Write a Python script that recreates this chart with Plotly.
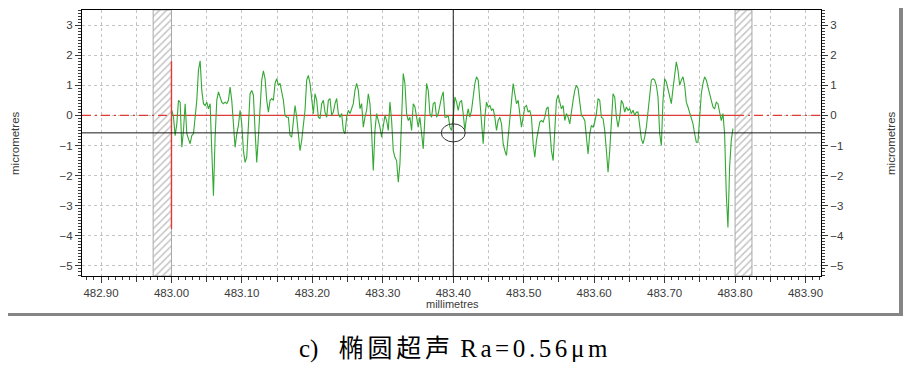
import numpy as np
import plotly.graph_objects as go

# ---------------- data ----------------
# roughness profile, micrometres, evenly sampled between X_START and X_END (mm)
X_START, X_END = 483.0005, 483.797
profile_um = [
    0.17, -0.06, -0.67, -0.28, 0.50, 0.44, -1.06, -0.50, 0.39, -0.61,
    -0.78, -0.94, -0.67, -0.61, -0.06, 0.50, 1.50, 1.81, 0.83, 0.39,
    0.33, 0.44, 0.22, 0.39, -1.17, -2.67, -0.72, 0.50, 0.78, 0.61,
    0.44, 0.39, 0.44, 0.39, 0.50, 0.94, 0.50, -0.28, -1.06, -0.61,
    -0.33, 0.17, -0.28, -1.17, -1.56, -1.39, -0.06, 0.72, 0.83, 0.67,
    -0.50, -1.56, -0.72, 0.50, 1.17, 1.48, 1.22, 0.50, 0.11, 0.50,
    0.56, 0.50, 1.06, 1.22, 1.00, 1.06, 0.78, 0.50, 0.00, -0.06,
    -0.06, -0.67, -0.72, -0.06, 0.33, -0.06, -0.61, -1.17, -0.83, -0.39,
    0.17, 1.17, 1.33,
    1.06, 0.50, 0.06, 0.72, 0.50, -0.06, -0.11, 0.39, 0.50, 0.11,
    -0.06, 0.50, 0.56, 0.00, 0.11, 0.39, 0.56, 0.06, -0.06, 0.06,
    -0.50, -0.61, -0.06, 0.17, 0.06, 0.22, 0.39, 0.83, 1.06, 0.83,
    0.22, 0.39, -0.39, -0.06, 0.17, 0.72, 0.39, -0.56, -1.83, -0.50,
    0.06, -0.17, -0.39, -0.72, -0.28, 0.00, -0.17, -0.50, 0.44, -0.17,
    -1.17, -1.39, -1.50, -2.22, -1.61, 0.17, 1.39, 1.06, 0.06, -0.17,
    -0.06, -0.50, 0.39, 0.28, -0.06, -0.39, -0.06, -0.50, -1.11, -0.06,
    1.06, 0.83, 0.06, -0.06, 0.39, 0.44, -0.06, 0.06, 0.39, 0.61,
    0.78, -0.06, -0.06, 0.00,
    -0.39, -0.50, -0.06, 0.61, 0.44, 0.17, 0.44, 0.50, 0.06, -0.50,
    -0.06, 0.22, -0.06, 0.17, 0.61, 1.06, 1.28, 1.17, 0.50, -0.39,
    -0.94, -0.06, 0.44, 0.28, 0.33, 0.17, 0.22, -0.06, -0.50, -0.17,
    -0.06, -0.28, -0.94, -1.17, -1.33, -0.72, -0.06, 0.50, 1.06, 0.72,
    0.39, 0.50, -0.06, -0.39, -0.06, 0.28, 0.33, 0.11, 0.17, -0.06,
    -0.94, -1.39, -0.83, -0.50, -0.22, -0.17, -0.22, -0.06, 0.22, 0.28,
    -0.61, -1.17, -1.50, -0.61, 0.50, 0.67, 0.39, 0.22, 0.33, -0.17,
    0.06, -0.06, -0.28, 0.22, 0.50, 0.83, 1.00, 0.89, 0.50, 0.00,
    -0.06, -0.17, -0.72, -1.28,
    -0.61, -0.33, -0.39, -0.22, 0.06, 0.56, 0.50, -0.06, -0.11, -0.50,
    -1.17, -1.89, -1.17, -0.06, 0.72, 0.61, -0.06, -0.39, -0.06, 0.50,
    0.39, 0.11, 0.28, 0.17, 0.22, 0.06, 0.17, 0.00, 0.11, 0.11,
    -0.28, -0.78, -0.94, -0.72, -0.39, 0.17, 0.72, 1.17, 1.22, 1.17,
    1.00, 0.61, -0.61, -1.00, 0.50, 1.22, 1.11, 0.83, 0.67, 0.39,
    0.89, 1.39, 1.78, 1.50, 1.00, 1.17, 1.28, 1.00, 0.44, 0.28,
    0.11, -0.06, -0.28, -0.61, -0.89, -0.89, -0.06, 0.72, 1.06, 1.28,
    1.17, 0.89, 0.72, 0.50, 0.28, 0.22, 0.44, 0.39, 0.06, -0.17,
    0.06, -0.61, -2.61, -3.72, -1.72, -0.83, -0.44,
]
x_mm = np.linspace(X_START, X_END, len(profile_um))

X_RANGE = [482.873, 483.922]
Y_RANGE = [-5.333, 3.5]
X_TICK0, X_DTICK = 482.90, 0.10
Y_TICKS = [-5, -4, -3, -2, -1, 0, 1, 2, 3]

EVAL_START, EVAL_END = 483.00, 483.80      # evaluation length
HATCH_LEFT = [482.974, 483.000]
HATCH_RIGHT = [483.800, 483.824]
MEAN_LINE = 0.0
CURSOR_X = 483.40
CURSOR_Y = -0.58
MARKER_Y = [1.80, -3.77]                   # red vertical marker at start
ELLIPSE_HALF = [0.017, 0.30]               # cursor ring half-size (mm, um)

CAPTION = ('<span style="font-size:25px">c)</span><span style="letter-spacing:14px"> </span>'
           '<span style="letter-spacing:3.8px;font-size:25px">椭圆超声</span> '
           '<span style="letter-spacing:3.6px;font-size:25px">Ra=0.56μm</span>')

# ---------------- styling ----------------
GREEN = '#33a833'
RED = '#df3b36'
BLACK = '#1a1a1a'
GRID = '#c4c4c4'
HATCH = '#8a8a8a'
TXT = '#3a3a3a'
FONT = 'Liberation Sans, Arial, sans-serif'
FRAME = '#858585'

fig = go.Figure()

# hatched exclusion zones
for a, b in (HATCH_LEFT, HATCH_RIGHT):
    fig.add_trace(go.Scatter(
        x=[a, b, b, a, a], y=[Y_RANGE[0], Y_RANGE[0], Y_RANGE[1], Y_RANGE[1], Y_RANGE[0]],
        mode='lines', fill='toself', line=dict(color='#a8a8a8', width=1),
        fillcolor='rgba(255,255,255,0)',
        fillpattern=dict(shape='/', fgcolor=HATCH, bgcolor='white', size=5, solidity=0.3),
        hoverinfo='skip'))

# mean line: dash-dot outside, solid inside evaluation length
fig.add_trace(go.Scatter(x=[X_RANGE[0], EVAL_START], y=[MEAN_LINE, MEAN_LINE], mode='lines',
                         line=dict(color=RED, width=1.2, dash='9px,4px,2px,4px')))
fig.add_trace(go.Scatter(x=[EVAL_END, X_RANGE[1]], y=[MEAN_LINE, MEAN_LINE], mode='lines',
                         line=dict(color=RED, width=1.2, dash='9px,4px,2px,4px')))
fig.add_trace(go.Scatter(x=[EVAL_START, EVAL_END], y=[MEAN_LINE, MEAN_LINE], mode='lines',
                         line=dict(color=RED, width=1.2)))

# cursor cross-hair
fig.add_trace(go.Scatter(x=X_RANGE, y=[CURSOR_Y, CURSOR_Y], mode='lines', xaxis='x3',
                         line=dict(color=BLACK, width=1)))
fig.add_trace(go.Scatter(x=[CURSOR_X, CURSOR_X], y=Y_RANGE, mode='lines', yaxis='y2',
                         line=dict(color=BLACK, width=1)))

# profile
fig.add_trace(go.Scatter(x=x_mm, y=profile_um, mode='lines',
                         line=dict(color=GREEN, width=1.1)))

# red vertical marker
fig.add_trace(go.Scatter(x=[EVAL_START, EVAL_START], y=MARKER_Y, mode='lines',
                         line=dict(color=RED, width=1.4)))

fig.add_shape(type='circle', xref='x', yref='y',
              x0=CURSOR_X - ELLIPSE_HALF[0], x1=CURSOR_X + ELLIPSE_HALF[0],
              y0=CURSOR_Y - ELLIPSE_HALF[1], y1=CURSOR_Y + ELLIPSE_HALF[1],
              line=dict(color='#333333', width=1))

# window border (frame of the original screenshot), drawn in pixels of the figure
fig.add_shape(type='rect', xref='paper', yref='paper', xsizemode='pixel', ysizemode='pixel',
              xanchor=1.0, yanchor=0.0, x0=78, x1=82, y0=-40, y1=270,
              fillcolor=FRAME, line=dict(width=0), layer='above')
fig.add_shape(type='rect', xref='paper', yref='paper', xsizemode='pixel', ysizemode='pixel',
              xanchor=0.0, yanchor=0.0, x0=-90, x1=82 + 739, y0=-40, y1=-37,
              fillcolor=FRAME, line=dict(width=0), layer='above')

tickfont = dict(family=FONT, size=11.5, color=TXT)

# the page body has an 8px margin on every side, so the figure is sized to fit
# inside the 911x379 window without overflowing it
fig.update_layout(
    width=895, height=363,
    margin=dict(l=74, r=82, t=2, b=95),
    paper_bgcolor='white', plot_bgcolor='white',
    showlegend=False,
    xaxis=dict(range=X_RANGE, tickmode='linear', tick0=X_TICK0, dtick=X_DTICK,
               tickformat='.2f', ticks='outside', ticklen=6, tickcolor=TXT, tickfont=tickfont,
               showline=True, linecolor='black', linewidth=1, mirror=True,
               showgrid=True, gridcolor=GRID, griddash='dot', gridwidth=1, zeroline=False,
               minor=dict(tick0=X_TICK0, dtick=0.05, ticks='outside', ticklen=5, tickcolor=TXT,
                          showgrid=True, gridcolor=GRID, griddash='dot', gridwidth=1)),
    xaxis3=dict(range=X_RANGE, overlaying='x', anchor='y', side='bottom',
                tickmode='linear', tick0=X_TICK0, dtick=0.01, ticks='outside', ticklen=3,
                tickcolor=TXT, showticklabels=False, showgrid=False, showline=False,
                zeroline=False),
    yaxis=dict(range=Y_RANGE, tickmode='array', tickvals=Y_TICKS, ticks='outside', ticklen=6,
               tickcolor=TXT, tickfont=tickfont, showline=True, linecolor='black', linewidth=1,
               mirror=True, showgrid=True, gridcolor=GRID, griddash='dot', gridwidth=1,
               zeroline=False,
               minor=dict(tick0=0, dtick=0.1, ticks='outside', ticklen=3, tickcolor=TXT,
                          showgrid=False)),
    yaxis2=dict(range=Y_RANGE, overlaying='y', side='right', anchor='x',
                tickmode='array', tickvals=Y_TICKS, ticks='outside', ticklen=6,
                tickcolor=TXT, tickfont=tickfont, showline=True, linecolor='black',
                showgrid=False, zeroline=False,
                minor=dict(tick0=0, dtick=0.1, ticks='outside', ticklen=3, tickcolor=TXT)),
    annotations=[
        dict(text='micrometres', xref='paper', yref='paper', x=-0.0907, y=0.5,
             textangle=-90, showarrow=False, xanchor='center', yanchor='middle',
             font=dict(family=FONT, size=11.5, color=TXT)),
        dict(text='micrometres', xref='paper', yref='paper', x=1.0947, y=0.5,
             textangle=-90, showarrow=False, xanchor='center', yanchor='middle',
             font=dict(family=FONT, size=11.5, color=TXT)),
        dict(text='millimetres', xref='paper', yref='paper', x=0.5007, y=-0.106,
             showarrow=False, xanchor='center', yanchor='middle',
             font=dict(family=FONT, size=11, color=TXT)),
        dict(text=CAPTION, xref='paper', yref='paper', x=0.5044, y=-0.2744,
             showarrow=False, xanchor='center', yanchor='middle',
             font=dict(family='Liberation Serif, Noto Sans CJK SC, serif', size=25,
                       color='black')),
    ],
)

fig.write_html('out.html')
